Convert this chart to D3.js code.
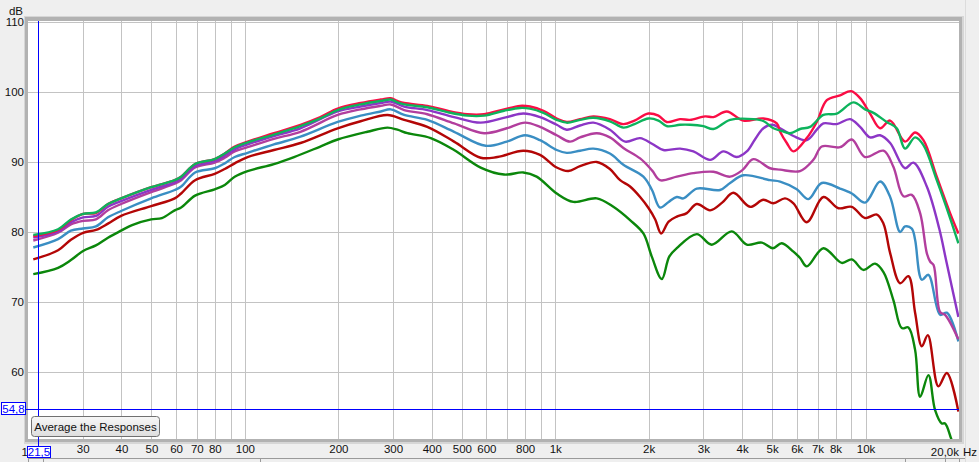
<!DOCTYPE html>
<html><head><meta charset="utf-8">
<script src="https://cdn.jsdelivr.net/npm/d3@7"></script>
<style>
html,body{margin:0;padding:0;background:#ececec;}
svg{display:block;font-family:"Liberation Sans",Arial,sans-serif;}
</style></head>
<body><svg id="c" width="979" height="462"></svg>
<script>
// ---------- data ----------
const yTicks = [60, 70, 80, 90, 100, 110];
const gridFreqs = [30,40,50,60,70,80,90,100,200,300,400,500,600,700,800,900,1000,2000,3000,4000,5000,6000,7000,8000,9000,10000];
const xLabelFreqs = [30,40,50,60,70,80,100,200,300,400,500,600,800,1000,2000,3000,4000,5000,6000,7000,8000,10000];
const xLabelText  = ["30","40","50","60","70","80","100","200","300","400","500","600","800","1k","2k","3k","4k","5k","6k","7k","8k","10k"];
const cursorFreq = 21.5;
const cursorDb = 54.8;

const darkGreen = [[20.8,74.0],[25,74.9],[27.5,76.0],[30.1,77.3],[33.1,78.1],[36.2,79.2],[39.9,80.2],[43.3,81.0],[49.9,81.8],[54,82.0],[59.4,83.1],[62.3,83.5],[69.1,85.2],[79.9,86.1],[86.1,86.7],[92.7,87.9],[102,88.7],
 [124,89.7],[144,90.7],[175,92.2],[199,93.2],[248,94.3],[288,94.9],[310,94.6],[334,94.1],[397,93.4],[472,91.7],[575,89.2],[684,88.2],[789,88.5],[871,87.9],[1011,85.5],
 [1144,84.3],[1361,84.8],[1539,83.6],[1742,81.7],[1923,79.8],[2047,76.5],[2204,73.3],[2330,76.5],[2464,77.7],[2858,79.7],[3194,78.2],[3706,80.1],[4142,78.2],[4629,78.5],[5022,77.7],[5370,78.4],[5855,77.2],[6150,76.3],[6464,75.1],[7312,77.7],[8380,75.6],[9030,76.1],[9840,74.6],[10730,75.5],[11420,74.3],[12290,70.3],[13080,66.3],[13740,66.4],[14440,63.2],[14990,56.5],[15940,59.6],[16750,54.6],[17600,52.7],[18040,52.7],[18960,50.3],[20000,48.0]];

const darkRed = [[20.8,76.1],[25,77.4],[27.5,78.9],[30.1,79.9],[33.1,80.3],[36.2,81.2],[39.9,82.3],[49.9,83.7],[59.4,84.8],[62.3,85.5],[69.1,87.4],[79.9,88.3],[86.1,89.0],[92.7,89.8],[102,90.7],
 [124,91.7],[151,92.7],[199,94.8],[236,95.8],[288,96.7],[326,96.0],[387,95.0],[472,92.9],[575,90.6],[651,90.7],[789,91.6],[893,91.0],[1011,89.2],
 [1102,88.7],[1202,89.4],[1361,90.0],[1500,89.0],[1618,87.4],[1742,86.5],[1877,85.0],[2000,83.4],[2100,81.8],[2193,79.8],[2320,81.5],[2464,82.2],[2654,82.7],[2858,84.0],[3155,83.1],[3450,84.2],[3750,85.6],[4245,83.6],[4685,84.6],[5045,84.1],[5500,84.8],[5855,84.1],[6464,81.4],[7312,85.0],[8174,83.4],[9030,83.6],[9963,82.0],[10870,82.5],[11420,81.2],[12000,77.0],[12920,72.7],[13740,73.7],[14440,68.5],[15180,63.7],[15870,65.3],[17160,58.0],[18270,59.9],[19910,54.4]];

const blue = [[20.8,77.8],[25,79.0],[27.5,80.2],[30.1,80.5],[33.1,80.8],[36.2,82.1],[39.9,83.0],[49.9,84.8],[59.4,86.0],[62.3,86.5],[69.1,88.5],[79.9,89.1],[86.1,89.8],[92.7,90.7],[102,91.3],
 [124,92.5],[151,93.6],[199,95.7],[236,96.6],[274,97.2],[295,97.5],[326,96.7],[387,96.0],[472,94.3],[597,92.3],[698,92.9],[799,93.8],[893,93.1],[1011,91.7],
 [1089,91.3],[1202,91.6],[1327,91.9],[1500,91.2],[1658,89.6],[1923,87.9],[2050,86.0],[2176,83.5],[2320,84.3],[2464,85.0],[2588,84.8],[2858,86.2],[3397,86.0],[3660,87.0],[4039,88.1],[4923,87.4],[5304,87.2],[6002,86.1],[6542,84.7],[7225,87.0],[8276,86.2],[9030,85.5],[9963,84.2],[11140,87.2],[12000,85.0],[12920,80.0],[13400,80.8],[14090,80.5],[14440,78.9],[15180,73.2],[15940,73.9],[17380,68.2],[18270,68.5],[19910,64.4]];

const magenta = [[20.8,78.8],[25,79.9],[27.5,81.1],[30.1,81.6],[33.1,81.8],[36.2,83.1],[39.9,84.0],[49.9,85.7],[59.4,86.9],[62.3,87.4],[69.1,89.2],[79.9,89.9],[86.1,90.6],[92.7,91.5],[102,92.1],
 [124,93.3],[151,94.3],[199,96.7],[236,97.5],[274,98.0],[295,98.2],[326,97.4],[387,96.8],[472,95.5],[590,94.1],[698,94.8],[799,95.6],[893,95.0],[1011,93.8],
 [1116,92.9],[1202,93.5],[1361,94.1],[1500,93.5],[1658,92.0],[1877,90.5],[2050,88.8],[2176,87.4],[2464,87.9],[2787,88.4],[3233,88.6],[3660,87.9],[4000,88.8],[4349,90.4],[4923,89.1],[5304,88.9],[6150,88.7],[6789,90.3],[7225,92.2],[8276,92.1],[9030,93.2],[9963,90.7],[11420,91.6],[12290,89.3],[13240,85.1],[14090,85.3],[14990,82.7],[15750,77.0],[16140,75.8],[16560,75.3],[17380,68.6],[18040,68.2],[19910,64.7]];

const purple = [[20.8,79.2],[25,80.1],[27.5,81.4],[30.1,82.1],[33.1,82.3],[36.2,83.6],[39.9,84.4],[49.9,86.0],[59.4,87.1],[62.3,87.6],[69.1,89.4],[79.9,90.1],[86.1,90.9],[92.7,91.8],[102,92.5],
 [124,93.7],[151,94.8],[199,97.2],[236,97.9],[274,98.4],[295,98.6],[326,97.9],[387,97.4],[472,96.4],[575,95.6],[698,96.4],[789,96.9],[893,96.4],[1011,95.3],
 [1089,94.6],[1202,95.2],[1327,95.6],[1500,94.6],[1680,92.9],[1877,93.4],[2050,92.6],[2231,91.7],[2525,91.9],[2787,91.5],[3155,90.3],[3482,91.5],[3845,90.7],[4142,91.5],[4400,93.2],[4685,94.8],[5000,95.3],[5304,94.8],[5855,93.7],[6464,93.1],[6963,94.6],[7312,95.5],[8078,95.4],[8916,96.1],[9601,95.0],[10340,93.5],[11140,93.8],[12000,92.7],[13400,89.1],[14260,89.9],[15750,86.5],[17270,80.5],[18270,75.5],[19910,67.9]];

const brightRed = [[20.8,79.4],[25,80.3],[27.5,81.7],[30.1,82.6],[33.1,82.7],[36.2,84.0],[39.9,84.8],[49.9,86.4],[59.4,87.4],[62.3,87.9],[69.1,89.7],[79.9,90.4],[86.1,91.2],[92.7,92.2],[102,92.9],
 [124,94.1],[151,95.3],[175,96.4],[199,97.6],[236,98.4],[274,98.9],[295,99.1],[310,98.7],[326,98.4],[387,98.0],[449,97.3],[521,96.8],[590,96.8],[684,97.5],[770,98.0],[829,97.9],[916,97.3],[1011,96.2],
 [1089,95.7],[1202,96.1],[1327,96.5],[1500,96.1],[1658,95.4],[1800,95.9],[1995,96.9],[2150,96.6],[2287,95.7],[2525,96.1],[2719,96.0],[3039,96.5],[3233,96.4],[3571,97.2],[4039,95.9],[4685,96.2],[5174,95.5],[5304,94.3],[5574,92.7],[5855,91.5],[6464,93.4],[6963,95.7],[7499,98.8],[8276,99.5],[8982,100.1],[9601,99.1],[10340,96.9],[11140,94.8],[12000,95.9],[13400,92.9],[14440,94.2],[15360,93.1],[16960,87.9],[18720,82.7],[19910,79.8]];

const brightGreen = [[20.8,79.6],[25,80.4],[27.5,81.8],[30.1,82.6],[33.1,82.8],[36.2,84.0],[39.9,84.8],[49.9,86.4],[59.4,87.4],[62.3,87.9],[69.1,89.7],[79.9,90.4],[86.1,91.2],[92.7,92.1],[102,92.8],
 [124,93.9],[151,95.1],[175,96.2],[199,97.4],[236,98.2],[274,98.7],[295,98.9],[310,98.5],[326,98.2],[387,97.8],[449,97.1],[521,96.6],[590,96.6],[684,97.3],[770,97.7],[829,97.6],[916,97.0],[1011,96.0],
 [1089,95.6],[1202,96.0],[1327,96.3],[1500,95.8],[1658,94.9],[1800,95.4],[1995,96.2],[2150,95.9],[2287,95.1],[2525,95.3],[2719,95.3],[3000,95.1],[3233,94.7],[3660,96.0],[4349,96.1],[4700,95.8],[5045,94.8],[5304,94.5],[5711,94.1],[6150,94.7],[6624,95.0],[7312,96.7],[8078,96.9],[9138,98.5],[9963,97.5],[10600,97.0],[11700,95.7],[12600,94.8],[13400,91.9],[14440,93.5],[15360,92.4],[16960,87.4],[18720,82.0],[19910,78.4]];

const seriesList = [
  {data: darkGreen,  color: "#0b870b"},
  {data: darkRed,    color: "#b30606"},
  {data: blue,       color: "#3a8ec3"},
  {data: magenta,    color: "#b23e9d"},
  {data: purple,     color: "#8c36c6"},
  {data: brightRed,  color: "#fa0d45"},
  {data: brightGreen,color: "#0db35c"}
];

// ---------- layout ----------
const L = 28, R = 959, T = 21, B = 439;
const svg = d3.select("#c");
const x = d3.scaleLog().domain([20, 20000]).range([L, R]);
const y = d3.scaleLinear().domain([60, 110]).range([372.3, 21.7]);

// frame / bevel
svg.append("rect").attr("x", 0).attr("y", 0).attr("width", 979).attr("height", 462).attr("fill", "#efefef");
svg.append("rect").attr("x", L - 4).attr("y", T - 5).attr("width", R - L + 9).attr("height", B - T + 10).attr("fill", "#d6d6d6");
svg.append("rect").attr("x", L - 3).attr("y", T - 4).attr("width", R - L + 6).attr("height", B - T + 7).attr("fill", "#b2b2b2");
svg.append("rect").attr("x", L).attr("y", T).attr("width", R - L).attr("height", B - T).attr("fill", "#ffffff");

// bottom ruler strip
svg.append("line").attr("x1", L).attr("x2", 966).attr("y1", 458.5).attr("y2", 458.5).attr("stroke", "#9a9a9a");
[L, 43, 260, 905, 945, R].forEach(v => {
  svg.append("line").attr("x1", v + 0.5).attr("x2", v + 0.5).attr("y1", 458).attr("y2", 462).attr("stroke", "#9a9a9a");
});
svg.append("line").attr("x1", 965.5).attr("x2", 965.5).attr("y1", 0).attr("y2", 462).attr("stroke", "#dcdcdc");

// grid
const gx = svg.append("g").attr("transform", `translate(0,${B})`)
  .call(d3.axisBottom(x).tickValues(gridFreqs).tickSize(-(B - T)).tickFormat(""));
gx.select(".domain").remove();
gx.selectAll("line").attr("stroke", "#c3c3c3").attr("shape-rendering", "crispEdges");

const gy = svg.append("g").attr("transform", `translate(${L},0)`)
  .call(d3.axisLeft(y).tickValues(yTicks).tickSize(-(R - L)).tickFormat(""));
gy.select(".domain").remove();
gy.selectAll("line").attr("stroke", "#c3c3c3").attr("shape-rendering", "crispEdges");

// tick labels
const lx = svg.append("g").attr("transform", `translate(0,${B + 6})`)
  .call(d3.axisBottom(x).tickValues(xLabelFreqs).tickSize(0).tickPadding(0)
    .tickFormat((d, i) => xLabelText[i]));
lx.select(".domain").remove();
lx.selectAll("text").attr("font-size", "11.5px").attr("fill", "#111").attr("font-family", "Liberation Sans, Arial, sans-serif");

const ly = svg.append("g").attr("transform", `translate(${L},0)`)
  .call(d3.axisLeft(y).tickValues(yTicks).tickSize(0).tickPadding(4));
ly.select(".domain").remove();
ly.selectAll("text").attr("font-size", "11.5px").attr("fill", "#111").attr("font-family", "Liberation Sans, Arial, sans-serif");

svg.append("text").attr("x", 23).attr("y", 15).attr("text-anchor", "end")
  .attr("font-size", "11.5px").attr("fill", "#111").text("dB");
svg.append("text").attr("x", 959).attr("y", 456).attr("text-anchor", "end")
  .attr("font-size", "11.5px").attr("fill", "#111").text("20,0k");
svg.append("text").attr("x", 963).attr("y", 456)
  .attr("font-size", "11.5px").attr("fill", "#111").text("Hz");

// curves
svg.append("clipPath").attr("id", "plotclip").append("rect")
  .attr("x", L).attr("y", T).attr("width", R - L).attr("height", B - T);
const line = d3.line().x(d => x(d[0])).y(d => y(d[1])).curve(d3.curveCatmullRom.alpha(0.5));
const gc = svg.append("g").attr("clip-path", "url(#plotclip)");
seriesList.forEach(s => {
  gc.append("path").attr("d", line(s.data)).attr("fill", "none")
    .attr("stroke", s.color).attr("stroke-width", 2.4).attr("stroke-linejoin", "round");
});

// cursor lines (drawn as 1px filled rects)
const cx = Math.round(x(cursorFreq));
const cy = Math.round(y(cursorDb));
svg.append("rect").attr("x", cx).attr("y", T).attr("width", 1).attr("height", 447 - T).attr("fill", "#0000ff");
svg.append("rect").attr("x", 26).attr("y", cy).attr("width", R - 26).attr("height", 1).attr("fill", "#0000ff");

// button
const defs = svg.append("defs");
const grad = defs.append("linearGradient").attr("id", "btn").attr("x1", 0).attr("x2", 0).attr("y1", 0).attr("y2", 1);
grad.append("stop").attr("offset", "0%").attr("stop-color", "#f7f7f7");
grad.append("stop").attr("offset", "100%").attr("stop-color", "#dedede");
svg.append("rect").attr("x", 31.5).attr("y", 416.5).attr("width", 128).attr("height", 20).attr("rx", 3)
  .attr("fill", "url(#btn)").attr("stroke", "#707070");
svg.append("text").attr("x", 95.5).attr("y", 430.5).attr("text-anchor", "middle")
  .attr("font-size", "11.5px").attr("fill", "#111").text("Average the Responses");

// cursor value boxes
svg.append("text").attr("x", 28).attr("y", 456).attr("text-anchor", "end")
  .attr("font-size", "11.5px").attr("fill", "#111").text("1");
svg.append("rect").attr("x", 27.5).attr("y", 446.5).attr("width", 23).attr("height", 11)
  .attr("fill", "#ffffff").attr("stroke", "#0000ff");
svg.append("text").attr("x", 39).attr("y", 456).attr("text-anchor", "middle")
  .attr("font-size", "11.5px").attr("fill", "#0000ff").text(String(cursorFreq).replace(".", ","));
svg.append("rect").attr("x", 1.5).attr("y", 402.5).attr("width", 24).attr("height", 12)
  .attr("fill", "#ffffff").attr("stroke", "#0000ff");
svg.append("text").attr("x", 13.5).attr("y", 412.5).attr("text-anchor", "middle")
  .attr("font-size", "11.5px").attr("fill", "#0000ff").text(String(cursorDb).replace(".", ","));
</script></body></html>
